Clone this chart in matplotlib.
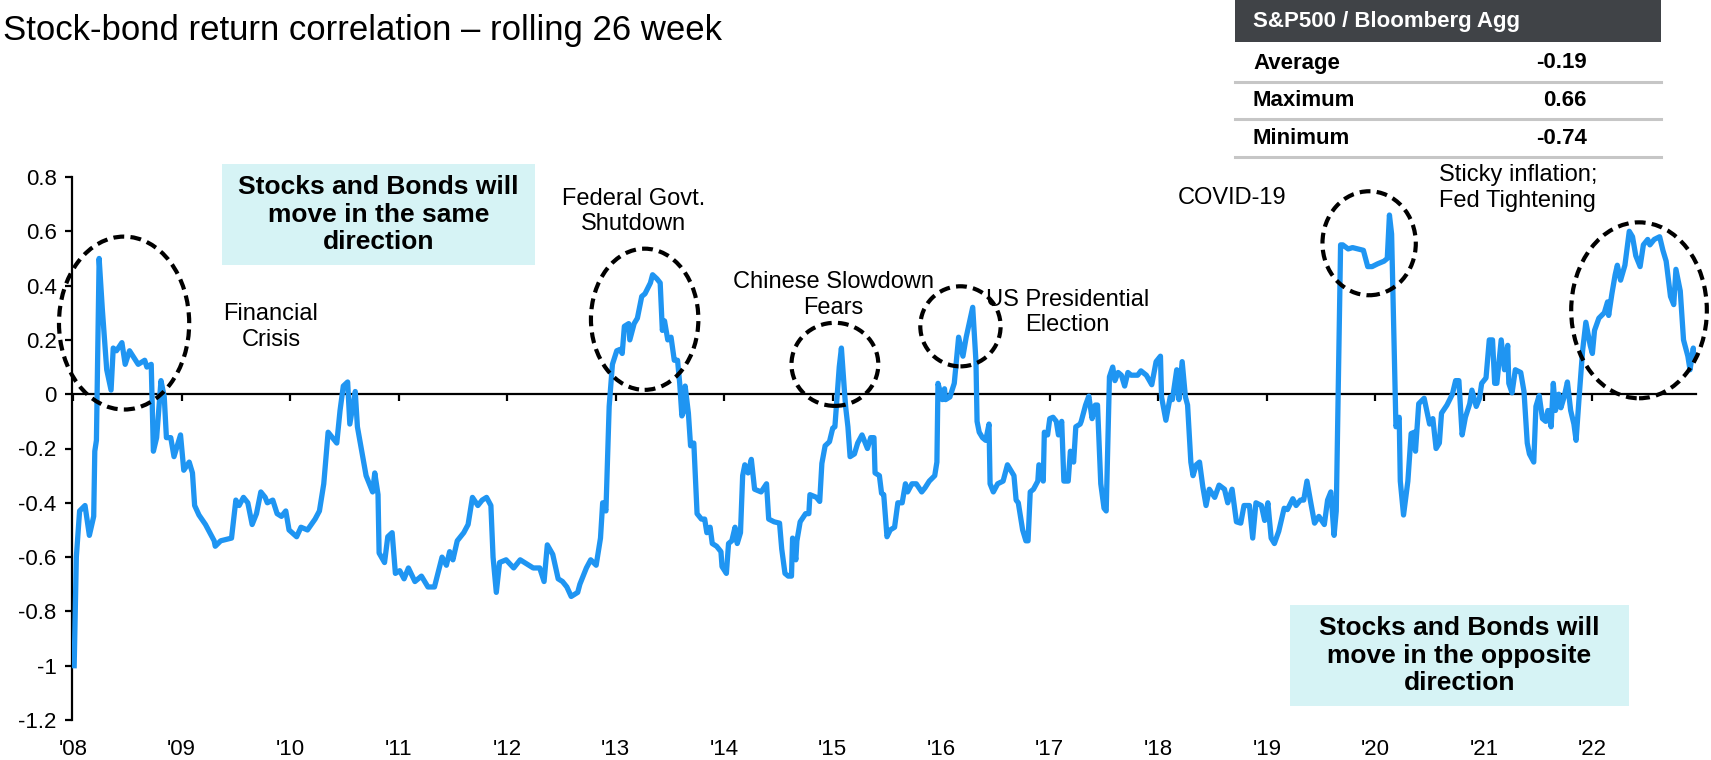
import matplotlib
matplotlib.use('Agg')
import matplotlib.pyplot as plt
from matplotlib.patches import Ellipse, Rectangle
from matplotlib.lines import Line2D

plt.rcParams['font.family'] = ['Liberation Sans', 'DejaVu Sans']

# rolling 26 week correlation, S&P500 vs Bloomberg Agg (decimal year, value)
dates = [
    2008.01, 2008.03, 2008.06, 2008.11, 2008.15, 2008.19, 2008.20, 2008.215, 2008.24, 2008.27,
    2008.31, 2008.35, 2008.37, 2008.40, 2008.45, 2008.48, 2008.52, 2008.60, 2008.66, 2008.68,
    2008.72, 2008.74, 2008.77, 2008.81, 2008.84, 2008.86, 2008.90, 2008.93, 2008.99,
    2009.02, 2009.07, 2009.10, 2009.12, 2009.16, 2009.22, 2009.26, 2009.30, 2009.31, 2009.36,
    2009.46, 2009.50, 2009.53, 2009.57, 2009.61, 2009.65, 2009.69, 2009.73, 2009.77, 2009.79,
    2009.84, 2009.88, 2009.92, 2009.96, 2009.99,
    2010.06, 2010.10, 2010.16, 2010.23, 2010.27, 2010.31, 2010.35, 2010.41, 2010.43, 2010.46,
    2010.49, 2010.53, 2010.55, 2010.60, 2010.62, 2010.66, 2010.70, 2010.73, 2010.76, 2010.78,
    2010.81, 2010.82, 2010.87, 2010.90, 2010.94, 2010.97,
    2011.01, 2011.05, 2011.09, 2011.15, 2011.21, 2011.27, 2011.33, 2011.40, 2011.44, 2011.47,
    2011.50, 2011.54, 2011.60, 2011.64, 2011.68, 2011.73, 2011.77, 2011.81, 2011.85, 2011.87,
    2011.90, 2011.93, 2011.99,
    2012.06, 2012.12, 2012.18, 2012.24, 2012.30, 2012.34, 2012.37, 2012.42, 2012.47, 2012.51,
    2012.55, 2012.59, 2012.65, 2012.67, 2012.73, 2012.77, 2012.82, 2012.86, 2012.88, 2012.91,
    2012.94, 2012.97,
    2013.01, 2013.04, 2013.06, 2013.08, 2013.12, 2013.13, 2013.17, 2013.20, 2013.24, 2013.27,
    2013.32, 2013.34, 2013.38, 2013.41, 2013.43, 2013.45, 2013.48, 2013.51, 2013.54, 2013.57,
    2013.59, 2013.61, 2013.63, 2013.64, 2013.67, 2013.69, 2013.72, 2013.75, 2013.79, 2013.82,
    2013.84, 2013.87, 2013.89, 2013.93, 2013.97, 2013.98,
    2014.02, 2014.04, 2014.07, 2014.10, 2014.12, 2014.15, 2014.17, 2014.19, 2014.22, 2014.25,
    2014.28, 2014.34, 2014.39, 2014.41, 2014.46, 2014.51, 2014.53, 2014.56, 2014.59, 2014.62,
    2014.63, 2014.66, 2014.67, 2014.70, 2014.75, 2014.78, 2014.79, 2014.85, 2014.88, 2014.90,
    2014.93, 2014.97,
    2015.00, 2015.02, 2015.04, 2015.06, 2015.08, 2015.11, 2015.12, 2015.14, 2015.16, 2015.20,
    2015.23, 2015.27, 2015.30, 2015.32, 2015.35, 2015.38, 2015.39, 2015.43, 2015.45, 2015.47,
    2015.50, 2015.53, 2015.57, 2015.60, 2015.64, 2015.67, 2015.69, 2015.73, 2015.77, 2015.82,
    2015.85, 2015.89, 2015.94, 2015.96, 2015.97,
    2016.01, 2016.03, 2016.04, 2016.08, 2016.12, 2016.16, 2016.20, 2016.23, 2016.29, 2016.32,
    2016.33, 2016.35, 2016.38, 2016.41, 2016.44, 2016.45, 2016.48, 2016.52, 2016.57, 2016.61,
    2016.64, 2016.67, 2016.69, 2016.71, 2016.75, 2016.78, 2016.80, 2016.82, 2016.85, 2016.89,
    2016.90, 2016.94, 2016.95, 2016.98,
    2017.00, 2017.03, 2017.06, 2017.08, 2017.11, 2017.13, 2017.17, 2017.19, 2017.22, 2017.24,
    2017.28, 2017.29, 2017.33, 2017.36, 2017.39, 2017.42, 2017.44, 2017.47, 2017.50, 2017.52,
    2017.55, 2017.58, 2017.60, 2017.63, 2017.66, 2017.69, 2017.72, 2017.75, 2017.81, 2017.84,
    2017.89, 2017.94, 2017.98,
    2018.02, 2018.03, 2018.07, 2018.11, 2018.13, 2018.17, 2018.19, 2018.22, 2018.25, 2018.27,
    2018.30, 2018.32, 2018.35, 2018.38, 2018.41, 2018.44, 2018.47, 2018.52, 2018.56, 2018.61,
    2018.64, 2018.68, 2018.72, 2018.76, 2018.79, 2018.84, 2018.87, 2018.90, 2018.95, 2018.98,
    2019.01, 2019.04, 2019.07, 2019.11, 2019.16, 2019.19, 2019.24, 2019.27, 2019.31, 2019.34,
    2019.37, 2019.41, 2019.44, 2019.48, 2019.53, 2019.56, 2019.59, 2019.62, 2019.64, 2019.68,
    2019.70, 2019.75, 2019.79, 2019.84, 2019.89, 2019.93, 2019.97,
    2020.02, 2020.08, 2020.11, 2020.13, 2020.15, 2020.19, 2020.22, 2020.23, 2020.26, 2020.30,
    2020.33, 2020.36, 2020.37, 2020.40, 2020.45, 2020.50, 2020.53, 2020.56, 2020.59, 2020.61,
    2020.66, 2020.71, 2020.74, 2020.77, 2020.80, 2020.83, 2020.87, 2020.89, 2020.93, 2020.96,
    2020.98,
    2021.02, 2021.05, 2021.08, 2021.10, 2021.12, 2021.16, 2021.19, 2021.22, 2021.23, 2021.26,
    2021.29, 2021.34, 2021.37, 2021.40, 2021.42, 2021.46, 2021.48, 2021.51, 2021.54, 2021.57,
    2021.59, 2021.62, 2021.64, 2021.66, 2021.69, 2021.71, 2021.74, 2021.77, 2021.80, 2021.83,
    2021.85, 2021.88, 2021.91, 2021.94, 2021.98,
    2022.00, 2022.02, 2022.06, 2022.11, 2022.14, 2022.15, 2022.18, 2022.21, 2022.23, 2022.26,
    2022.30, 2022.34, 2022.37, 2022.40, 2022.44, 2022.47, 2022.51, 2022.53, 2022.57, 2022.62,
    2022.65, 2022.68, 2022.72, 2022.75, 2022.77, 2022.81, 2022.84, 2022.88, 2022.90, 2022.93,
    2022.94,
]
corr = [
    -1.00, -0.60, -0.43, -0.41, -0.52, -0.45, -0.21, -0.17, 0.50, 0.31,
    0.09, 0.015, 0.17, 0.16, 0.19, 0.11, 0.16, 0.11, 0.125, 0.10,
    0.11, -0.21, -0.16, 0.05, -0.01, -0.16, -0.16, -0.23, -0.15,
    -0.28, -0.25, -0.29, -0.41, -0.445, -0.48, -0.51, -0.54, -0.56, -0.54,
    -0.53, -0.39, -0.41, -0.38, -0.40, -0.48, -0.44, -0.36, -0.38, -0.40,
    -0.39, -0.44, -0.45, -0.43, -0.50,
    -0.525, -0.49, -0.50, -0.46, -0.43, -0.33, -0.14, -0.17, -0.18, -0.06,
    0.03, 0.045, -0.11, 0.01, -0.12, -0.21, -0.30, -0.33, -0.36, -0.29,
    -0.37, -0.585, -0.62, -0.525, -0.51, -0.66,
    -0.65, -0.68, -0.64, -0.69, -0.67, -0.71, -0.71, -0.60, -0.63, -0.58,
    -0.61, -0.54, -0.51, -0.48, -0.38, -0.41, -0.39, -0.38, -0.41, -0.60,
    -0.73, -0.62, -0.61,
    -0.64, -0.61, -0.625, -0.64, -0.64, -0.69, -0.555, -0.59, -0.68, -0.69,
    -0.71, -0.745, -0.73, -0.70, -0.64, -0.61, -0.63, -0.53, -0.40, -0.43,
    -0.045, 0.11,
    0.16, 0.165, 0.15, 0.25, 0.26, 0.20, 0.26, 0.28, 0.36, 0.37,
    0.41, 0.44, 0.425, 0.41, 0.235, 0.27, 0.20, 0.21, 0.125, 0.125,
    0.04, -0.08, -0.06, 0.03, -0.07, -0.19, -0.18, -0.44, -0.46, -0.46,
    -0.51, -0.49, -0.55, -0.56, -0.58, -0.635,
    -0.66, -0.55, -0.54, -0.49, -0.55, -0.51, -0.30, -0.26, -0.29, -0.24,
    -0.35, -0.36, -0.33, -0.46, -0.47, -0.475, -0.57, -0.66, -0.67, -0.67,
    -0.53, -0.61, -0.54, -0.47, -0.44, -0.44, -0.37, -0.38, -0.395, -0.255,
    -0.19, -0.175,
    -0.125, -0.12, -0.01, 0.10, 0.17, 0.0, -0.05, -0.12, -0.23, -0.22,
    -0.18, -0.15, -0.18, -0.20, -0.16, -0.16, -0.29, -0.30, -0.365, -0.37,
    -0.525, -0.50, -0.49, -0.40, -0.40, -0.33, -0.36, -0.33, -0.33, -0.36,
    -0.345, -0.32, -0.30, -0.25, 0.04,
    -0.02, 0.02, -0.02, -0.01, 0.04, 0.21, 0.14, 0.21, 0.32, 0.12,
    -0.10, -0.14, -0.16, -0.17, -0.11, -0.33, -0.36, -0.33, -0.32, -0.26,
    -0.28, -0.30, -0.39, -0.40, -0.50, -0.54, -0.54, -0.36, -0.35, -0.32,
    -0.26, -0.32, -0.14, -0.15,
    -0.09, -0.085, -0.10, -0.15, -0.10, -0.32, -0.32, -0.21, -0.25, -0.12,
    -0.11, -0.10, -0.04, -0.007, -0.09, -0.04, -0.04, -0.33, -0.42, -0.43,
    0.064, 0.10, 0.05, 0.08, 0.07, 0.03, 0.08, 0.07, 0.07, 0.086,
    0.07, 0.035, 0.12,
    0.14, -0.01, -0.096, -0.01, -0.02, 0.09, -0.02, 0.12, -0.01, -0.04,
    -0.25, -0.30, -0.26, -0.25, -0.34, -0.41, -0.35, -0.38, -0.335, -0.35,
    -0.40, -0.35, -0.47, -0.475, -0.41, -0.41, -0.53, -0.40, -0.41, -0.465,
    -0.40, -0.53, -0.55, -0.505, -0.42, -0.425, -0.385, -0.41, -0.39, -0.39,
    -0.32, -0.41, -0.475, -0.45, -0.48, -0.39, -0.36, -0.52, -0.43, 0.55,
    0.55, 0.535, 0.54, 0.535, 0.53, 0.47, 0.47,
    0.48, 0.49, 0.50, 0.66, 0.59, -0.12, -0.085, -0.32, -0.445, -0.32,
    -0.145, -0.14, -0.21, -0.035, -0.015, -0.11, -0.09, -0.20, -0.18, -0.07,
    -0.04, 0.0, 0.05, 0.05, -0.15, -0.085, -0.035, 0.015, -0.045, -0.015,
    0.04,
    0.06, 0.20, 0.20, 0.04, 0.04, 0.20, 0.09, 0.18, 0.04, 0.005,
    0.09, 0.08, 0.01, -0.18, -0.22, -0.25, -0.045, -0.005, -0.09, -0.10,
    -0.06, -0.12, 0.04, -0.06, 0.0, -0.05, -0.01, 0.045, -0.06, -0.11,
    -0.17, 0.0, 0.16, 0.265, 0.18,
    0.15, 0.235, 0.28, 0.30, 0.34, 0.29, 0.37, 0.44, 0.475, 0.42,
    0.475, 0.60, 0.58, 0.51, 0.47, 0.55, 0.57, 0.55, 0.57, 0.58,
    0.53, 0.49, 0.36, 0.33, 0.46, 0.38, 0.20, 0.14, 0.09, 0.17,
    0.13,
]

tick_years = list(range(2008, 2023))
tick_labels = ["'%02d" % (y % 100) for y in tick_years]
yticks = [-1.2, -1.0, -0.8, -0.6, -0.4, -0.2, 0.0, 0.2, 0.4, 0.6, 0.8]
ytick_labels = ['-1.2', '-1', '-0.8', '-0.6', '-0.4', '-0.2', '0', '0.2', '0.4', '0.6', '0.8']

stat_names = ['Average', 'Maximum', 'Minimum']
stat_values = ['-0.19', '0.66', '-0.74']

# event circles: (centre year, centre value, width in years, height in corr units)
events = [
    (2008.47, 0.262, 1.20, 0.637),
    (2013.267, 0.276, 0.99, 0.52),
    (2015.02, 0.110, 0.80, 0.306),
    (2016.177, 0.250, 0.74, 0.295),
    (2019.943, 0.556, 0.86, 0.383),
    (2022.43, 0.309, 1.25, 0.648),
]
event_labels = [
    (2009.823, 0.247, 'Financial\nCrisis', 'center'),
    (2013.166, 0.674, 'Federal Govt.\nShutdown', 'center'),
    (2015.007, 0.365, 'Chinese Slowdown\nFears', 'center'),
    (2017.162, 0.302, 'US Presidential\nElection', 'center'),
    (2018.681, 0.722, 'COVID-19', 'center'),
    (2020.588, 0.759, 'Sticky inflation;\nFed Tightening', 'left'),
]

W, H = 1711, 760
fig = plt.figure(figsize=(W / 100, H / 100), dpi=100)


def fpos(px, py):
    # pixel position measured from the top-left corner -> figure fraction
    return px / W, 1 - py / H


ax = fig.add_axes([72 / W, 40 / H, 1624 / W, 543 / H])
ax.patch.set_visible(False)
ax.plot(dates, corr, color='#1f95f2', lw=3.8, solid_joinstyle='round', zorder=3)
ax.set_xlim(2007.99, 2022.955)
ax.set_ylim(-1.2, 0.8)

for s in ['top', 'right']:
    ax.spines[s].set_visible(False)
ax.spines['left'].set_linewidth(1.6)
ax.spines['bottom'].set_position(('data', 0))
ax.spines['bottom'].set_linewidth(1.6)
ax.spines['bottom'].set_zorder(2)

ax.set_yticks(yticks)
ax.set_yticklabels(ytick_labels, fontsize=16)
ax.tick_params(axis='y', direction='out', length=5, width=1.6, pad=6)
ax.set_xticks(tick_years)
ax.tick_params(axis='x', direction='out', length=5, width=1.6, labelbottom=False)
for yr, lab in zip(tick_years, tick_labels):
    ax.text(yr, -0.035, lab, transform=ax.get_xaxis_transform(),
            ha='center', va='top', fontsize=16)

for cx, cy, w, h in events:
    ax.add_patch(Ellipse((cx, cy), w, h, fill=False, ec='black', lw=3,
                         ls=(0, (2.6, 1.5)), clip_on=False, zorder=4))

for x, y, txt, ha in event_labels:
    ax.text(x, y, txt, ha=ha, va='center', multialignment=ha, fontsize=17)

# title
tx, ty = fpos(3, 40)
fig.text(tx, ty, 'Stock-bond return correlation \u2013 rolling 26 week',
         fontsize=25, ha='left', va='baseline')

# shaded explanation boxes
boxes = [
    ((222, 164, 535, 265), 'Stocks and Bonds will\nmove in the same\ndirection'),
    ((1290, 605, 1629, 706), 'Stocks and Bonds will\nmove in the opposite\ndirection'),
]
for (x0, y0, x1, y1), txt in boxes:
    bx, by = fpos(x0, y1)
    fig.add_artist(Rectangle((bx, by), (x1 - x0) / W, (y1 - y0) / H,
                             transform=fig.transFigure, fc='#d6f3f5', ec='none', zorder=-1))
    cx, cy = fpos((x0 + x1) / 2, (y0 + y1) / 2)
    fig.text(cx, cy, txt, ha='center', va='center', fontsize=19,
             fontweight='bold', linespacing=1.2)

# summary table, top right
hx, hy = fpos(1235, 42)
fig.add_artist(Rectangle((hx, hy), (1661 - 1235) / W, 42 / H,
                         transform=fig.transFigure, fc='#404347', ec='none'))
lx, ly = fpos(1253, 22)
fig.text(lx, ly, 'S&P500 / Bloomberg Agg', color='white', fontsize=16,
         fontweight='bold', ha='left', va='center')
row_y = [63, 101, 138]
sep_y = [82, 119, 157]
for name, val, ry, sy in zip(stat_names, stat_values, row_y, sep_y):
    nx, ny = fpos(1253, ry)
    fig.text(nx, ny, name, fontsize=16, fontweight='bold', ha='left', va='center')
    vx, vy = fpos(1587, ry)
    fig.text(vx, vy, val, fontsize=16, fontweight='bold', ha='right', va='center')
    _, sy_f = fpos(0, sy)
    fig.add_artist(Line2D([1235 / W, 1661 / W], [sy_f, sy_f], transform=fig.transFigure,
                          color='#c6c6c6', lw=2.2))

fig.savefig('out.png', dpi=100)
